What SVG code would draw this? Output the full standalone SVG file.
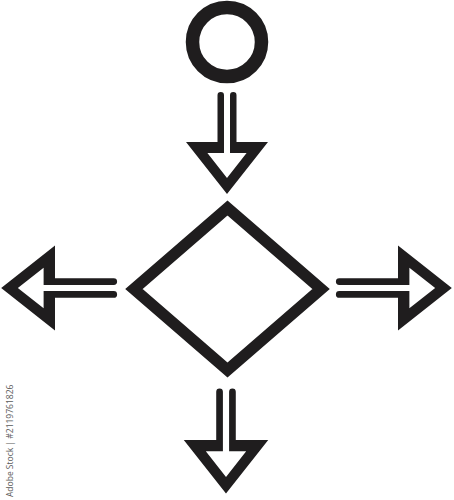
<svg xmlns="http://www.w3.org/2000/svg" width="454" height="500" viewBox="0 0 454 500">
  <style>
    .ink { fill: #1f1d1e; }
    .outline { fill: none; stroke: #1f1d1e; }
    .credit { font-family: "Open Sans", "Liberation Sans", sans-serif; font-size: 8.5px; fill: #5a5a5a; }
  </style>
  <defs>
    <path id="arrowV" d="M -9.5,-46.75 L -9.5,0 L -41,0 L 0,52 L 41,0 L 9.5,0 L 9.5,-46.75 A 3.25 3.25 0 0 0 3,-46.75 L 3,11 L 19.6,11 L 0,35.9 L -19.6,11 L -3,11 L -3,-46.75 A 3.25 3.25 0 0 0 -9.5,-46.75 Z"/>
    <path id="arrowH" d="M -9.5,-56.75 L -9.5,0 L -41,0 L 0,52 L 41,0 L 9.5,0 L 9.5,-56.75 A 3.25 3.25 0 0 0 3,-56.75 L 3,11 L 19.6,11 L 0,35.9 L -19.6,11 L -3,11 L -3,-56.75 A 3.25 3.25 0 0 0 -9.5,-56.75 Z"/>
  </defs>
  <rect width="454" height="500" fill="#ffffff"/>

  <g id="start">
    <circle class="outline" cx="227" cy="42" r="34.5" stroke-width="13.5"/>
  </g>

  <g id="decision">
    <polygon class="outline" points="227.5,208 321,289 227.5,370 134,289" stroke-width="11.5" stroke-linejoin="miter" stroke-miterlimit="4"/>
  </g>

  <g id="connectors">
    <use href="#arrowV" class="ink" transform="translate(227,142)"/>
    <use href="#arrowV" class="ink" transform="translate(226,440) scale(1.03)"/>
    <use href="#arrowH" class="ink" transform="translate(55,288) rotate(90) scale(1.035)"/>
    <use href="#arrowH" class="ink" transform="translate(398,288) rotate(-90) scale(1.035)"/>
  </g>

  <text class="credit" transform="translate(13,497) rotate(-90)">Adobe Stock | #2119761826</text>
</svg>
